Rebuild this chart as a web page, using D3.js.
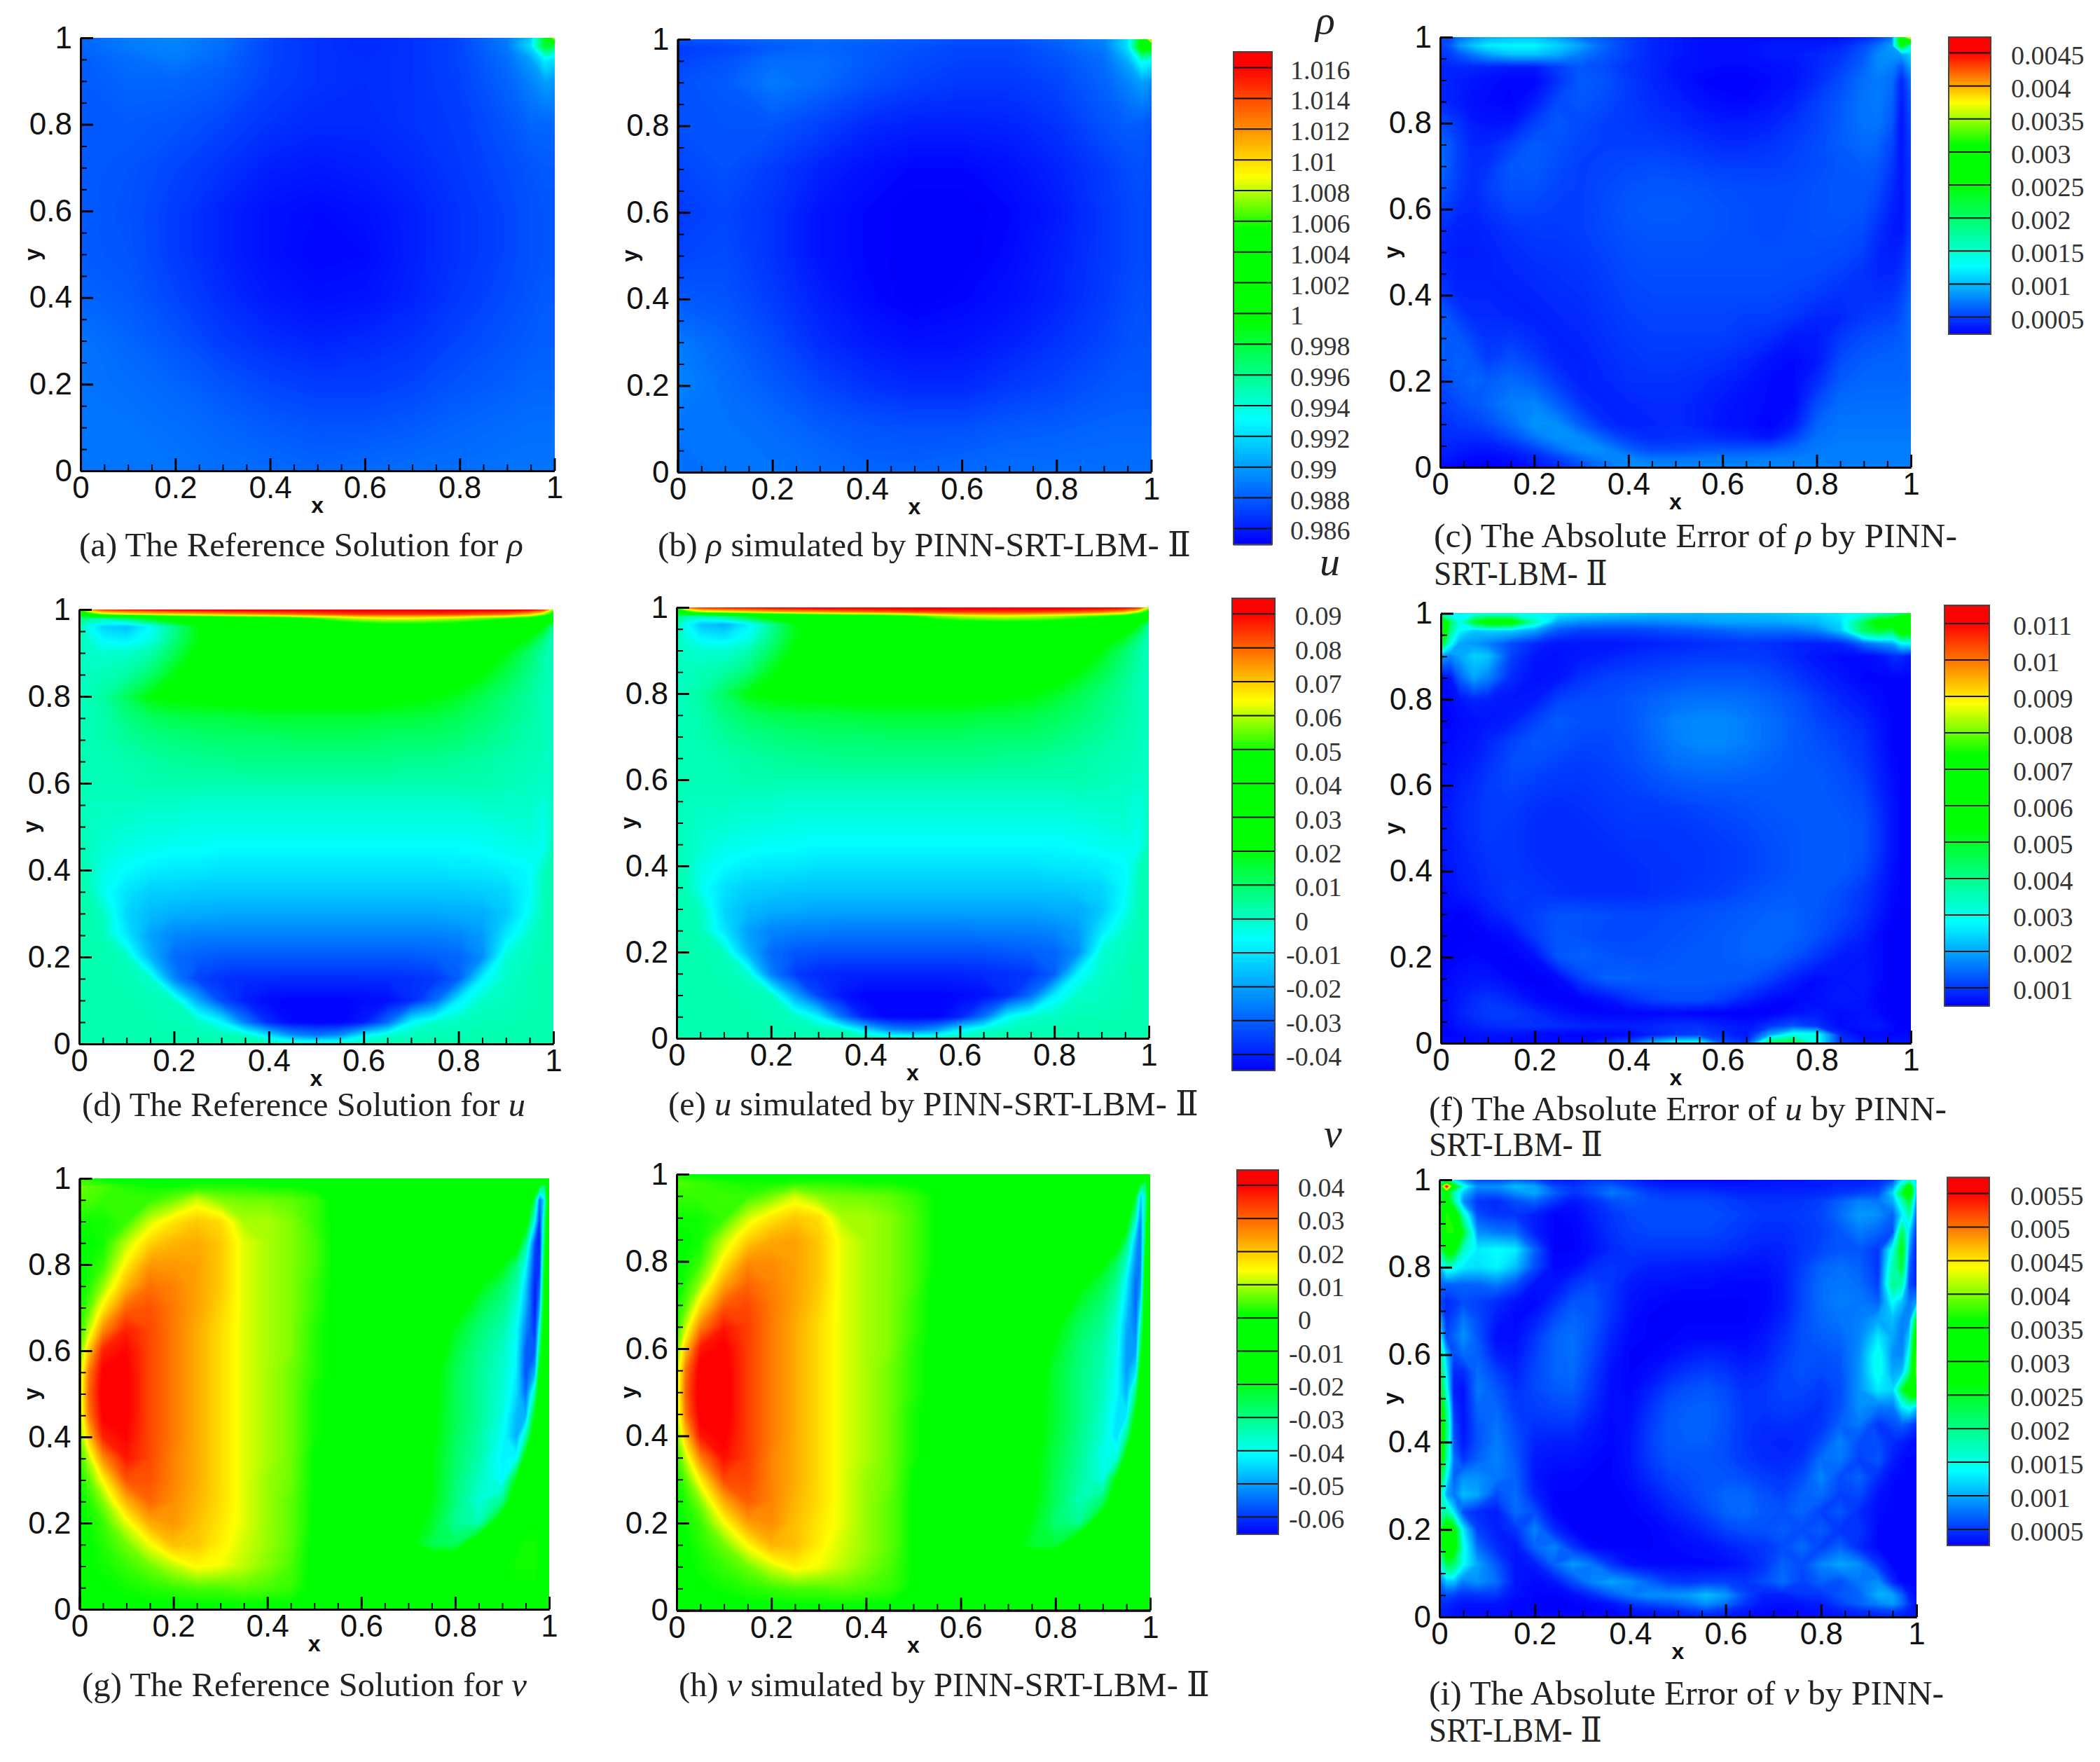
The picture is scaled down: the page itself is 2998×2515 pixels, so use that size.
<!DOCTYPE html>
<html>
<head>
<meta charset="utf-8">
<script src="https://cdn.jsdelivr.net/npm/d3@7"></script>
<style>
body { margin: 0; background: #fff; }
.axis text { font-family: "Liberation Sans", Arial, sans-serif; font-size: 44px; fill: #111; }
.axis path, .axis line { stroke: #000; }
.name { font-family: "Liberation Sans", Arial, sans-serif; font-size: 32px; font-weight: bold; fill: #111; }
.caption { font-family: "Liberation Serif", "DejaVu Serif", serif; font-size: 48px; fill: #222; }
.barlabel { font-family: "Liberation Serif", serif; font-size: 38px; fill: #333; }
.symbol { font-family: "Liberation Serif", serif; font-size: 58px; font-style: italic; fill: #222; }
</style>
</head>
<body>
<script>
// sample positions of the hand read grids, finer near the walls
var rhoX = [0,.1,.2,.3,.4,.5,.6,.7,.8,.9,.95,.98,1]
var rhoY = [1,.98,.95,.9,.8,.7,.6,.5,.4,.3,.2,.1,0]
var uX = [0,.02,.05,.1,.15,.2,.25,.3,.35,.4,.45,.5,.55,.6,.65,.7,.75,.8,.85,.9,.95,.98,1]
var uY = [1,.99,.98,.96,.93,.9,.85,.8,.75,.7,.65,.6,.55,.5,.45,.4,.35,.3,.25,.2,.15,.1,.05,.02,0]
var vX = [0,.02,.05,.1,.15,.2,.25,.3,.35,.4,.45,.5,.55,.6,.65,.7,.75,.8,.85,.9,.93,.95,.97,.98,.99,1]
var vY = [1,.98,.95,.9,.85,.8,.75,.7,.65,.6,.55,.5,.45,.4,.35,.3,.25,.2,.15,.1,.05,0]
var errX = [0,.02,.04,.07,.1,.15,.2,.25,.3,.35,.4,.45,.5,.55,.6,.65,.7,.75,.8,.85,.9,.93,.96,.98,1]
var errY = [1,.98,.96,.93,.9,.85,.8,.75,.7,.65,.6,.55,.5,.45,.4,.35,.3,.25,.2,.15,.1,.07,.04,.02,0]
var vErrX = [0,.015,.03,.05,.08,.12,.16,.2,.24,.28,.32,.36,.4,.44,.48,.52,.56,.6,.64,.68,.72,.76,.8,.84,.88,.92,.95,.97,.985,1]
var vErrY = [1,.985,.97,.95,.92,.88,.84,.8,.76,.72,.68,.64,.6,.56,.52,.48,.44,.4,.36,.32,.28,.24,.2,.16,.12,.08,.05,.03,.015,0]

// rho, in units of 1e-4
var rhoRef = [
[9883,9890,9893,9886,9873,9867,9864,9867,9873,9890,9915,9990,10092],
[9883,9890,9893,9886,9873,9867,9864,9867,9873,9890,9922,9985,9970],
[9880,9886,9890,9883,9873,9867,9865,9867,9873,9886,9902,9928,9922],
[9880,9883,9883,9880,9872,9867,9865,9867,9872,9883,9893,9902,9899],
[9880,9880,9878,9873,9867,9864,9864,9867,9870,9878,9883,9883,9883],
[9880,9878,9873,9867,9861,9859,9861,9864,9869,9875,9878,9880,9880],
[9880,9877,9870,9862,9856,9854,9856,9861,9867,9873,9877,9878,9878],
[9880,9878,9870,9862,9856,9853,9854,9861,9867,9873,9877,9878,9878],
[9883,9880,9873,9865,9859,9856,9857,9862,9869,9875,9878,9880,9880],
[9888,9883,9878,9870,9865,9862,9864,9867,9873,9878,9880,9881,9881],
[9888,9886,9883,9878,9873,9870,9870,9873,9878,9881,9883,9883,9883],
[9888,9888,9886,9883,9880,9878,9878,9880,9883,9885,9886,9886,9886],
[9888,9888,9888,9886,9885,9883,9885,9886,9886,9888,9888,9888,9888]]
var rhoSim = [
[9880,9880,9883,9886,9883,9880,9877,9877,9883,9893,9922,10000,10110],
[9870,9873,9880,9883,9880,9877,9873,9873,9880,9890,9922,10005,10000],
[9873,9877,9886,9886,9880,9875,9872,9872,9877,9886,9906,9938,9931],
[9877,9880,9890,9885,9877,9872,9869,9869,9873,9883,9893,9902,9896],
[9877,9878,9878,9872,9864,9861,9861,9862,9867,9877,9881,9880,9877],
[9873,9877,9870,9862,9856,9853,9853,9856,9862,9870,9875,9877,9875],
[9870,9873,9867,9857,9853,9851,9851,9853,9859,9869,9873,9875,9873],
[9873,9875,9867,9857,9853,9851,9851,9854,9861,9869,9873,9875,9873],
[9880,9878,9870,9861,9854,9851,9853,9856,9862,9870,9875,9877,9875],
[9890,9883,9875,9865,9859,9856,9857,9861,9867,9873,9877,9878,9877],
[9893,9886,9880,9873,9867,9864,9864,9869,9873,9878,9880,9880,9880],
[9888,9888,9885,9881,9878,9877,9877,9880,9881,9883,9883,9883,9883],
[9886,9888,9888,9886,9883,9883,9885,9886,9886,9886,9886,9886,9886]]

// u, in units of 1e-3
var uRef = [
[50,75,85,88,90,92,93,94,94,94,94,94,94,94,94,94,94,94,94,94,92,85,60],
[30,45,60,65,68,70,72,74,76,78,80,82,84,85,85,85,85,84,82,80,72,60,45],
[8,5,4,10,20,30,34,38,40,42,46,52,58,62,64,64,62,60,56,52,46,38,25],
[3,-4,-12,-15,-6,6,20,27,30,32,34,36,38,40,42,42,42,40,38,36,30,20,6],
[2,-1,-6,-8,-3,8,20,28,30,31,32,33,33,33,33,33,33,33,31,28,18,8,2],
[1,0,-1,0,3,12,23,27,30,31,32,32,32,32,32,32,32,30,27,20,10,4,1],
[1,1,2,4,10,20,25,27,29,30,31,31,31,31,31,31,29,26,21,14,7,3,1],
[1,2,4,12,21,23,24,25,25,25,25,25,25,25,24,23,21,18,13,9,5,2,1],
[1,2,3,8,11,13,14,14,15,16,16,16,16,16,15,15,14,12,10,7,4,2,1],
[2,2,3,5,7,8,9,10,10,10,11,11,11,11,10,10,10,9,7,5,3,2,1],
[2,2,2,3,4,5,6,6,7,7,7,7,7,7,7,6,6,5,4,3,2,1,1],
[2,2,2,2,3,3,3,3,3,3,3,3,3,3,3,3,3,3,3,2,1,0,1],
[2,1,1,1,0,0,-1,-1,-1,-1,-1,-1,-1,-1,-1,-1,-1,-1,0,0,0,-2,1],
[2,1,0,-1,-2,-2,-3,-3,-3,-3,-3,-3,-3,-3,-3,-3,-3,-3,-3,-2,-1,-3,1],
[2,1,-1,-3,-4,-5,-5,-6,-6,-6,-6,-6,-6,-6,-6,-6,-6,-6,-5,-4,-3,-4,2],
[3,1,-3,-6,-8,-9,-9,-10,-10,-10,-10,-10,-10,-10,-10,-10,-10,-9,-9,-8,-6,1,3],
[3,2,-4,-10,-13,-13,-14,-14,-14,-14,-14,-14,-14,-14,-14,-14,-14,-14,-13,-12,-6,2,3],
[3,3,1,-12,-16,-18,-18,-19,-19,-19,-19,-19,-19,-19,-19,-19,-19,-18,-18,-14,-4,2,3],
[3,3,2,-9,-20,-24,-25,-25,-25,-25,-25,-25,-25,-25,-25,-25,-25,-24,-21,-9,0,2,3],
[3,3,3,1,-17,-28,-30,-31,-31,-31,-31,-31,-31,-31,-31,-31,-30,-29,-23,-1,1,3,3],
[3,3,3,2,0,-24,-34,-37,-38,-38,-38,-38,-38,-38,-38,-37,-36,-30,-7,0,2,3,3],
[3,3,3,3,2,1,-18,-33,-40,-43,-44,-44,-44,-43,-42,-38,-28,-8,0,1,2,3,3],
[3,3,3,3,3,2,1,-6,-25,-38,-43,-44,-44,-40,-28,-6,0,1,2,2,3,3,3],
[3,3,3,3,3,3,2,2,1,-10,-22,-26,-22,-8,-1,1,2,2,3,3,3,3,3],
[3,3,3,3,3,3,3,3,3,3,2,1,1,2,3,3,3,3,3,3,3,3,3]]
var uSim = [
[55,78,86,89,90,92,93,94,94,94,94,94,94,94,94,94,94,94,94,94,92,86,62],
[32,46,60,64,68,71,73,75,77,79,81,83,84,85,85,85,85,84,82,79,72,60,46],
[9,4,3,8,18,29,34,38,40,42,45,51,57,61,63,64,62,60,56,52,46,38,26],
[3,-5,-14,-17,-8,5,19,27,30,32,34,36,38,40,41,42,42,40,38,36,30,20,6],
[2,-2,-7,-9,-4,7,19,27,30,31,32,33,33,33,33,33,33,33,31,28,18,8,2],
[1,0,-1,-1,2,11,22,27,30,31,32,32,32,32,32,32,32,30,27,20,10,4,1],
[1,1,2,4,9,19,25,27,29,30,31,31,31,31,31,31,29,26,21,14,7,3,1],
[1,2,4,11,20,23,24,25,25,25,25,25,25,25,24,23,21,18,13,9,5,2,1],
[1,2,3,8,11,13,14,14,15,16,16,16,16,16,15,15,14,12,10,7,4,2,1],
[2,2,3,5,7,8,9,10,10,10,11,11,11,11,10,10,10,9,7,5,3,2,1],
[2,2,2,3,4,5,6,6,7,7,7,7,7,7,7,6,6,5,4,3,2,1,1],
[2,2,2,2,3,3,3,3,3,3,3,3,3,3,3,3,3,3,3,2,1,0,1],
[2,1,1,1,0,0,-1,-1,-1,-1,-1,-1,-1,-1,-1,-1,-1,-1,0,0,0,-2,1],
[2,1,0,-1,-2,-2,-3,-3,-3,-3,-3,-3,-3,-3,-3,-3,-3,-3,-3,-2,-1,-3,1],
[2,1,-1,-3,-4,-5,-5,-6,-6,-6,-6,-6,-6,-6,-6,-6,-6,-6,-5,-4,-3,-4,2],
[3,1,-3,-6,-8,-9,-9,-10,-10,-10,-10,-10,-10,-10,-10,-10,-10,-9,-9,-8,-6,1,3],
[3,2,-4,-10,-13,-13,-14,-14,-14,-14,-14,-14,-14,-14,-14,-14,-14,-14,-13,-12,-6,2,3],
[3,3,1,-12,-16,-18,-18,-19,-19,-19,-19,-19,-19,-19,-19,-19,-19,-18,-18,-14,-4,2,3],
[3,3,2,-9,-20,-24,-25,-25,-26,-26,-26,-26,-26,-26,-25,-25,-25,-24,-21,-9,0,2,3],
[3,3,3,1,-17,-28,-31,-32,-32,-32,-32,-32,-32,-32,-32,-31,-30,-29,-23,-1,1,3,3],
[3,3,3,2,0,-25,-35,-38,-39,-39,-39,-39,-39,-39,-38,-37,-36,-30,-7,0,2,3,3],
[3,3,3,3,2,1,-19,-34,-41,-44,-44,-44,-44,-43,-42,-38,-28,-8,0,1,2,3,3],
[3,3,3,3,3,2,1,-7,-27,-40,-44,-44,-44,-39,-27,-6,0,1,2,2,3,3,3],
[3,3,3,3,3,3,2,2,1,-11,-23,-26,-21,-8,-1,1,2,2,3,3,3,3,3],
[3,3,3,3,3,3,3,3,3,3,2,1,1,2,3,3,3,3,3,3,3,3,3]]

// v, in units of 1e-3
var vRef = [
[3,2,1,0,0,0,0,0,0,0,0,0,0,0,0,0,0,0,0,0,0,0,-1,-4,-6,-3],
[7,6,5,3,2,2,3,3,3,2,2,1,0,0,0,0,0,0,0,0,0,0,-5,-25,-30,-3],
[5,5,4,4,4,7,12,8,7,7,6,4,0,0,0,0,0,0,0,0,-1,-3,-28,-55,-42,-3],
[2,2,2,4,12,17,20,18,10,10,8,4,0,0,0,0,0,0,0,-1,-4,-12,-42,-60,-32,-1],
[1,1,2,11,19,22,23,20,13,10,8,5,0,0,0,0,0,0,-2,-6,-12,-30,-58,-62,-26,-1],
[1,2,4,16,25,25,24,20,13,10,8,5,0,0,0,0,0,-1,-8,-18,-28,-40,-60,-60,-20,-1],
[1,3,9,22,29,27,24,20,13,10,8,4,0,0,0,0,-1,-6,-18,-26,-33,-45,-62,-55,-14,-1],
[2,6,16,30,32,28,24,19,13,10,8,4,0,0,0,-1,-4,-12,-24,-30,-37,-48,-62,-48,-10,-1],
[3,11,26,37,33,28,23,18,13,10,8,3,0,0,0,-1,-8,-20,-28,-33,-40,-52,-60,-38,-7,0],
[6,20,37,40,33,28,23,18,13,10,8,3,0,0,0,-2,-12,-23,-30,-35,-41,-56,-56,-28,-4,0],
[9,28,41,41,33,28,23,18,13,10,7,3,0,0,0,-3,-15,-25,-31,-36,-42,-57,-48,-15,-3,0],
[10,30,42,41,33,28,23,18,13,10,7,2,0,0,-1,-4,-16,-25,-31,-37,-44,-54,-32,-8,-2,0],
[9,28,41,41,33,28,23,18,13,10,7,2,0,0,-1,-5,-17,-25,-31,-38,-47,-48,-18,-4,-1,0],
[7,20,37,40,33,28,23,18,13,10,7,2,0,0,-1,-6,-17,-26,-32,-40,-48,-34,-7,-2,0,0],
[4,11,26,38,33,27,23,18,13,10,7,1,0,0,-1,-8,-18,-27,-33,-42,-40,-14,-3,-1,0,0],
[2,6,15,32,32,27,23,18,13,9,7,1,0,0,-1,-10,-18,-28,-35,-41,-18,-5,-1,0,0,0],
[1,3,8,22,30,26,22,18,13,9,6,1,0,0,-2,-12,-19,-29,-37,-30,-6,-2,0,0,0,0],
[0,2,4,13,23,25,21,17,13,9,6,1,0,0,-3,-14,-21,-31,-34,-8,-2,0,1,1,0,0],
[0,1,3,7,14,21,20,16,12,9,6,0,0,0,-3,-16,-25,-26,-6,-1,1,2,2,1,0,0],
[0,1,2,4,7,11,15,14,11,8,5,0,0,0,0,-3,-4,-2,0,1,2,2,2,1,0,0],
[0,0,1,2,3,4,5,5,6,5,4,0,0,0,0,0,0,0,1,1,1,1,1,0,0,0],
[0,0,0,0,0,0,0,0,0,0,0,0,0,0,0,0,0,0,0,0,0,0,0,0,0,0]]
var vSim = [
[2,1,1,0,0,0,0,0,0,0,0,0,0,0,0,0,0,0,0,0,0,0,-1,-3,-5,-2],
[5,5,4,3,2,2,3,3,3,2,2,1,0,0,0,0,0,0,0,0,0,0,-4,-20,-26,-3],
[4,4,4,4,4,7,12,8,7,7,6,4,1,0,0,0,0,0,0,0,-1,-3,-22,-46,-34,-3],
[2,2,2,4,12,17,20,18,10,10,8,5,1,0,0,0,0,0,0,-1,-4,-12,-36,-52,-28,-1],
[1,1,2,11,19,23,24,20,13,10,8,5,1,0,0,0,0,0,-2,-5,-11,-26,-48,-54,-24,-1],
[1,2,4,16,26,26,24,20,13,10,8,5,1,0,0,0,0,-1,-7,-16,-26,-36,-52,-53,-18,-1],
[1,3,9,23,30,27,24,20,13,10,8,5,0,0,0,0,-1,-5,-16,-24,-31,-42,-55,-50,-13,-1],
[2,6,17,31,33,28,24,19,13,10,8,4,0,0,0,-1,-3,-10,-22,-28,-35,-45,-55,-43,-9,-1],
[3,12,27,38,34,28,23,18,13,10,8,4,0,0,0,-1,-6,-17,-26,-31,-38,-48,-53,-34,-7,0],
[6,21,38,41,34,28,23,18,13,10,8,3,0,0,0,-2,-10,-20,-28,-33,-39,-50,-50,-25,-4,0],
[9,29,42,42,34,28,23,18,13,10,7,3,0,0,0,-3,-13,-22,-29,-34,-40,-50,-43,-14,-3,0],
[10,31,43,42,34,28,23,18,13,10,7,3,0,0,-1,-3,-14,-22,-29,-35,-41,-48,-29,-7,-2,0],
[9,29,42,42,34,28,23,18,13,10,7,2,0,0,-1,-4,-15,-22,-29,-36,-43,-43,-16,-4,-1,0],
[7,21,38,41,34,28,23,18,13,10,7,2,0,0,-1,-5,-15,-23,-30,-37,-44,-31,-6,-2,0,0],
[4,12,27,39,34,27,23,18,13,10,7,2,0,0,-1,-7,-16,-24,-31,-39,-37,-13,-3,-1,0,0],
[2,6,16,33,33,27,23,18,13,9,7,1,0,0,-1,-8,-16,-25,-32,-38,-16,-5,-1,0,0,0],
[1,3,8,23,31,27,22,18,13,9,6,1,0,0,-2,-10,-17,-26,-34,-27,-6,-2,0,0,0,0],
[0,2,4,14,24,26,21,17,13,9,6,1,0,0,-2,-12,-19,-28,-31,-7,-2,0,0,0,0,0],
[0,1,3,7,15,22,21,16,12,9,6,1,0,0,-3,-14,-22,-23,-5,-1,0,0,0,0,0,0],
[0,1,2,4,7,12,16,14,11,8,5,1,0,0,0,-3,-4,-2,0,0,0,0,0,0,0,0],
[0,0,1,2,3,4,5,5,6,5,4,1,0,0,0,0,0,0,0,0,0,0,0,0,0,0],
[0,0,0,0,0,0,0,0,0,0,0,0,0,0,0,0,0,0,0,0,0,0,0,0,0,0]]

// absolute errors, in units of 1e-5
var rhoErr = [
[55,55,70,85,95,100,100,90,70,60,50,40,35,30,30,30,30,30,30,30,40,50,70,300,400],
[50,60,85,105,120,125,125,110,90,65,50,40,35,30,30,30,35,35,35,40,55,70,90,250,150],
[45,50,60,75,90,105,105,95,75,60,50,40,35,30,30,30,35,35,40,45,60,80,85,90,110],
[40,40,40,40,38,35,35,50,60,55,45,40,32,30,28,28,30,32,40,50,65,80,75,60,90],
[40,38,36,33,30,27,27,45,62,58,48,40,33,27,25,25,28,32,42,55,70,75,70,40,70],
[40,38,35,30,28,26,35,55,60,55,48,42,38,32,28,27,32,38,50,60,72,75,65,35,60],
[55,52,45,35,32,33,50,60,55,50,48,45,42,38,35,35,38,45,52,62,72,72,60,33,55],
[65,60,50,40,40,50,62,58,52,50,50,50,48,45,42,42,45,50,55,62,68,65,52,33,50],
[68,60,50,42,45,60,62,55,50,52,54,55,54,52,50,50,50,52,55,60,62,60,48,33,48],
[60,55,48,42,50,58,58,52,50,54,58,60,60,58,56,55,54,55,58,60,60,55,42,33,48],
[50,48,42,40,45,52,52,50,50,55,60,62,62,60,58,56,55,56,58,60,58,50,38,33,48],
[42,40,38,38,40,45,48,48,50,54,58,60,60,60,58,56,55,56,58,58,54,44,35,33,50],
[40,38,36,36,38,42,45,46,48,52,56,58,58,58,56,56,56,56,56,55,50,40,36,40,55],
[42,40,38,38,38,40,42,44,46,50,54,56,56,56,56,56,56,55,54,50,44,40,40,45,60],
[50,45,40,40,40,38,40,42,44,48,52,54,54,54,54,54,54,52,48,44,44,44,45,52,65],
[60,58,50,42,42,40,38,40,42,46,50,52,52,52,52,50,50,46,40,40,48,50,52,58,68],
[62,62,60,52,45,48,42,38,40,44,48,50,50,50,50,46,42,34,34,48,56,58,60,62,68],
[60,62,64,60,50,58,50,40,38,42,46,48,48,46,44,40,32,28,34,55,62,64,64,65,68],
[55,58,62,66,62,68,62,48,38,40,44,44,44,42,38,33,28,28,42,62,66,66,66,66,68],
[50,52,55,60,65,76,78,62,45,38,40,42,42,38,34,30,28,28,55,68,70,70,70,70,70],
[45,45,48,50,55,68,85,82,62,44,38,40,42,38,32,30,26,35,65,72,72,72,72,72,72],
[42,42,42,42,44,55,72,85,80,62,48,42,44,44,40,38,32,50,70,74,74,74,74,74,74],
[38,38,35,33,32,38,50,68,82,82,65,55,55,58,60,60,62,68,74,76,76,76,76,76,76],
[34,33,30,28,27,30,38,50,65,78,80,72,72,74,74,74,76,76,76,76,76,76,76,76,76],
[30,28,26,25,25,27,33,42,55,70,80,80,78,78,78,78,78,78,78,76,76,76,76,76,76]]
var uErr = [
[300,250,270,280,280,290,280,270,260,250,240,230,225,220,220,225,230,240,250,270,300,320,380,450,500],
[750,450,300,500,620,600,350,200,180,170,170,170,180,190,200,200,200,210,220,250,450,600,600,700,780],
[800,400,280,230,240,240,200,130,110,110,110,115,125,130,140,150,150,150,170,230,450,500,450,650,600],
[550,300,200,190,170,120,90,70,70,70,75,80,85,90,95,100,95,85,80,90,150,180,200,280,280],
[200,170,200,240,230,110,70,65,75,80,90,95,100,105,105,105,100,85,70,60,60,65,90,90,70],
[60,70,140,200,170,90,65,70,95,110,115,120,125,130,130,130,120,105,85,70,55,55,55,55,55],
[55,60,70,85,80,70,75,110,120,120,130,140,150,155,155,150,140,125,105,85,70,60,55,55,55],
[55,55,60,65,70,80,110,135,125,120,130,150,170,175,175,165,150,135,115,100,85,70,55,55,55],
[60,60,65,70,85,110,130,125,115,115,125,145,165,175,175,165,150,135,125,110,95,75,55,55,55],
[65,65,70,80,95,120,120,110,105,110,120,135,150,155,155,150,140,135,130,120,100,80,60,55,55],
[70,70,80,90,105,115,105,100,100,105,110,120,130,135,135,135,135,135,135,125,110,85,65,55,55],
[70,75,85,95,105,105,95,90,95,100,105,105,110,115,120,125,130,135,135,130,120,95,70,55,55],
[70,75,85,95,105,100,90,90,90,95,100,100,100,105,110,115,125,130,135,135,125,100,70,55,55],
[70,75,80,90,100,100,90,90,90,90,95,95,100,100,105,110,120,130,135,135,125,100,70,55,55],
[65,70,80,85,95,100,95,90,90,90,90,95,95,100,105,110,120,130,135,135,115,90,65,55,55],
[60,65,70,80,90,105,100,95,90,90,90,95,100,105,110,120,130,135,135,120,100,80,60,55,55],
[55,55,52,60,75,95,110,125,125,120,115,115,120,125,130,135,140,140,130,115,95,75,55,52,52],
[50,50,50,52,55,65,105,130,125,115,115,120,125,130,135,140,140,140,125,100,80,60,50,50,50],
[50,52,55,58,55,52,65,130,140,130,125,125,130,135,135,140,140,125,100,75,70,60,50,50,50],
[55,60,65,70,70,55,50,60,110,140,140,135,135,135,135,130,110,80,60,70,75,60,50,50,50],
[60,65,75,90,100,85,62,52,52,65,90,110,120,120,105,80,60,55,65,75,70,55,50,50,50],
[60,65,80,95,105,105,90,72,58,55,56,56,60,55,52,50,50,65,75,60,68,60,50,50,50],
[55,60,70,80,90,95,95,90,85,80,78,85,95,95,80,70,100,130,100,60,70,75,60,52,50],
[55,55,60,65,70,65,60,55,55,55,60,80,100,110,90,70,200,310,300,90,55,60,55,55,55],
[60,60,60,60,60,60,60,60,60,100,130,220,300,300,130,100,450,500,300,100,80,70,70,70,70]]
var vErr = [
[120,150,130,90,60,60,70,60,40,40,50,50,45,35,30,30,30,30,30,35,35,35,40,40,40,45,60,130,150,130],
[280,570,300,150,90,90,110,100,60,50,60,70,55,45,40,40,40,38,38,38,40,40,40,45,45,50,90,180,320,120],
[200,280,180,110,70,70,90,100,70,50,60,80,70,55,50,50,50,45,42,42,42,42,45,50,55,60,120,250,340,110],
[230,300,200,90,50,45,60,70,50,35,45,60,65,60,58,58,58,55,50,48,48,50,55,70,85,80,100,170,240,90],
[280,380,340,170,60,50,50,40,28,30,40,50,58,60,60,60,60,58,55,50,50,52,58,75,95,90,70,130,180,70],
[260,370,370,250,90,80,75,40,28,28,36,48,55,58,58,58,58,55,50,46,46,50,55,65,80,70,60,230,120,50],
[190,300,290,170,130,140,130,70,28,28,34,44,50,50,50,50,50,48,44,40,42,50,58,65,65,50,150,270,90,40],
[110,160,150,130,125,135,110,60,30,32,45,50,46,40,40,38,38,36,34,34,40,55,70,76,70,50,180,240,70,40],
[70,70,70,70,70,80,60,35,35,50,58,50,38,34,34,32,32,30,30,30,38,58,75,80,75,55,200,180,60,45],
[60,45,50,60,55,45,35,30,45,65,65,50,35,30,28,28,28,28,28,30,38,58,75,82,80,70,140,110,80,100],
[110,50,60,80,60,38,30,40,60,72,65,48,32,28,28,28,28,28,28,32,42,60,72,78,82,100,110,85,90,250],
[150,60,70,90,65,32,32,50,70,76,62,42,30,28,28,30,30,30,30,36,48,62,68,72,85,130,100,80,120,350],
[220,110,60,75,70,40,36,55,70,76,58,38,28,28,32,38,42,40,35,40,52,62,62,66,90,150,90,85,150,390],
[250,130,45,45,75,55,42,58,70,74,54,34,28,32,42,50,55,50,42,46,56,62,58,62,92,150,100,110,200,400],
[290,150,40,35,80,65,48,58,66,68,50,32,30,40,55,62,65,58,48,50,58,58,52,60,92,130,120,240,330,360],
[320,190,50,35,72,72,52,55,58,60,44,32,32,48,62,68,70,62,50,50,54,52,48,62,90,80,80,130,150,120],
[350,210,60,35,65,78,58,48,50,50,38,30,34,52,66,70,70,62,50,46,48,46,50,70,80,50,60,70,60,50],
[360,200,65,38,62,82,62,42,40,40,34,30,36,54,66,68,68,60,50,44,42,44,60,85,60,60,45,40,35,32],
[340,180,80,50,70,85,66,38,34,34,30,28,36,52,62,64,64,60,52,46,44,50,75,80,55,65,40,32,30,30],
[280,140,70,90,90,80,70,36,30,30,28,28,34,46,56,60,64,64,60,54,50,60,85,60,70,45,32,30,30,30],
[200,100,80,110,100,60,75,42,28,28,26,26,30,38,48,56,64,72,72,62,56,70,75,55,60,35,30,30,30,30],
[170,190,130,60,45,40,75,60,30,26,26,26,28,32,40,48,58,70,74,66,62,72,55,65,45,32,30,30,30,30],
[220,340,290,130,55,40,50,85,45,28,26,26,26,28,32,38,46,56,62,62,68,60,68,50,50,30,30,30,30,30],
[220,340,310,150,75,45,36,72,85,50,30,28,28,28,30,32,34,40,46,50,60,75,55,70,45,30,30,30,30,30],
[140,230,220,140,100,65,34,40,70,95,80,50,34,30,30,30,30,32,38,50,70,60,85,100,90,50,30,30,30,30],
[80,110,110,80,90,75,36,30,36,60,85,100,90,70,55,50,55,55,50,60,75,55,70,60,80,90,45,30,30,30],
[55,60,55,48,50,50,34,28,28,32,45,65,80,90,90,95,110,95,60,40,40,50,50,65,70,105,100,70,40,32],
[45,45,40,36,36,36,30,28,28,28,30,36,50,60,65,75,90,75,50,36,34,36,40,55,70,85,95,75,50,36],
[40,40,36,32,32,32,30,28,28,28,28,30,36,40,42,50,60,50,38,32,30,32,36,42,48,55,60,50,40,36],
[40,40,35,35,35,32,30,30,30,30,30,30,32,34,36,38,42,38,34,30,30,32,34,36,40,40,42,40,38,36]]

// colour bar labels
var rhoTicks = ['1.016','1.014','1.012','1.01','1.008','1.006','1.004','1.002','1','0.998','0.996','0.994','0.992','0.99','0.988','0.986']
var uTicks = ['0.09','0.08','0.07','0.06','0.05','0.04','0.03','0.02','0.01','0','-0.01','-0.02','-0.03','-0.04']
var vTicks = ['0.04','0.03','0.02','0.01','0','-0.01','-0.02','-0.03','-0.04','-0.05','-0.06']
var rhoErrTicks = ['0.0045','0.004','0.0035','0.003','0.0025','0.002','0.0015','0.001','0.0005']
var uErrTicks = ['0.011','0.01','0.009','0.008','0.007','0.006','0.005','0.004','0.003','0.002','0.001']
var vErrTicks = ['0.0055','0.005','0.0045','0.004','0.0035','0.003','0.0025','0.002','0.0015','0.001','0.0005']

// value at blue, cyan, green, green, yellow, red
var rhoStops = [.98509,.9931,.9995,1.0055,1.0089,1.016]
var uStops = [-.0447,-.006,.021,.049,.0644,.09]
var vStops = [-.0652,-.041,-.018,.001,.0143,.04]
var rhoErrStops = [.00024,.00127,.0025,.0031,.00375,.0045]
var uErrStops = [.0005,.0028,.0054,.0074,.0088,.011]
var vErrStops = [.00026,.00137,.0027,.0036,.0044,.0055]
var rampColors = ['#0000ff','#00ffff','#00ff00','#00ff00','#ffff00','#ff0000']

var svg = d3.select('body').append('svg').attr('width', 2998).attr('height', 2515)
var axisTicks = [0, .2, .4, .6, .8, 1]
var minorTicks = d3.range(0, 21).map(function(i){ return i / 20 }).filter(function(t){ return Math.round(t * 20) % 4 != 0 })

function drawField(grid, unit, xs, ys, stops, box) {
  var color = d3.scaleLinear().domain(stops).range(rampColors).clamp(true)
  var xScale = d3.scaleLinear().domain([0, 1]).range([box[0], box[1]])
  var yScale = d3.scaleLinear().domain([0, 1]).range([box[3], box[2]])
  // contour coordinates are in grid cells, a sample sits in the middle of its cell
  var colToPx = d3.scaleLinear().domain(xs.map(function(d, i){ return i + .5 })).range(xs.map(xScale)).clamp(true)
  var rowToPx = d3.scaleLinear().domain(ys.map(function(d, i){ return i + .5 })).range(ys.map(yScale)).clamp(true)
  var path = d3.geoPath(d3.geoTransform({ point: function(x, y) { this.stream.point(colToPx(x), rowToPx(y)) } }))

  var values = grid.flat().map(function(d){ return d * unit })
  var ext = d3.extent(values)
  var levels = d3.range(220).map(function(i){ return ext[0] + (ext[1] - ext[0]) * i / 220 })
  var contours = d3.contours().size([xs.length, ys.length]).thresholds(levels)(values)

  var g = svg.append('g')
  g.append('rect').attr('x', box[0]).attr('y', box[2]).attr('width', box[1] - box[0]).attr('height', box[3] - box[2]).attr('fill', color(ext[0]))
  g.selectAll('path').data(contours).enter().append('path')
    .attr('d', path)
    .attr('fill', function(d){ return color(d.value) })

  // tecplot style axes: only left and bottom, ticks point inwards
  var fmt = function(d){ return String(+d.toFixed(1)) }
  var bottom = svg.append('g').attr('class', 'axis').attr('transform', 'translate(0,' + box[3] + ')')
  bottom.call(d3.axisBottom(xScale).tickValues(minorTicks).tickSize(-9).tickSizeOuter(0).tickFormat(''))
    .selectAll('line').attr('stroke-width', 2)
  var bottom2 = svg.append('g').attr('class', 'axis').attr('transform', 'translate(0,' + box[3] + ')')
  bottom2.call(d3.axisBottom(xScale).tickValues(axisTicks).tickSize(-18).tickSizeOuter(0).tickPadding(8).tickFormat(fmt))
  var left = svg.append('g').attr('class', 'axis').attr('transform', 'translate(' + box[0] + ',0)')
  left.call(d3.axisLeft(yScale).tickValues(minorTicks).tickSize(-9).tickSizeOuter(0).tickFormat(''))
    .selectAll('line').attr('stroke-width', 2)
  var left2 = svg.append('g').attr('class', 'axis').attr('transform', 'translate(' + box[0] + ',0)')
  left2.call(d3.axisLeft(yScale).tickValues(axisTicks).tickSize(-18).tickSizeOuter(0).tickPadding(12).tickFormat(fmt))
  svg.selectAll('.axis path, .axis line').filter(function(){ return !this.getAttribute('stroke-width') }).attr('stroke-width', 3)

  svg.append('text').attr('class', 'name').attr('text-anchor', 'middle')
    .attr('x', xScale(.5)).attr('y', box[3] + 60).text('x')
  svg.append('text').attr('class', 'name').attr('text-anchor', 'middle')
    .attr('transform', 'translate(' + (box[0] - 58) + ',' + yScale(.5) + ') rotate(-90)').text('y')
}

function drawBar(ticks, stops, domain, box, labelX) {
  var color = d3.scaleLinear().domain(stops).range(rampColors).clamp(true)
  var y = d3.scaleLinear().domain(domain).range([box[3], box[2]])
  var slices = d3.range(box[2], box[3], 2)
  svg.selectAll(null).data(slices).enter().append('rect')
    .attr('x', box[0]).attr('width', box[1] - box[0])
    .attr('y', function(d){ return d }).attr('height', 2.5)
    .attr('fill', function(d){ return color(y.invert(d + 1)) })
  svg.selectAll(null).data(ticks).enter().append('line')
    .attr('x1', box[0]).attr('x2', box[1])
    .attr('y1', function(d){ return y(+d) }).attr('y2', function(d){ return y(+d) })
    .attr('stroke', '#111').attr('stroke-width', 2)
  svg.append('rect').attr('x', box[0]).attr('y', box[2]).attr('width', box[1] - box[0]).attr('height', box[3] - box[2])
    .attr('fill', 'none').attr('stroke', '#444').attr('stroke-width', 2)
  svg.selectAll(null).data(ticks).enter().append('text')
    .attr('class', 'barlabel')
    .attr('x', function(d){ return d[0] == '-' ? labelX - 13 : labelX })
    .attr('y', function(d){ return y(+d) + 16 })
    .text(function(d){ return d })
}

function caption(parts, x, y, width) {
  var t = svg.append('text').attr('class', 'caption').attr('x', x).attr('y', y)
    .attr('textLength', width).attr('lengthAdjust', 'spacingAndGlyphs')
  parts.forEach(function(p, i) {
    var s = t.append('tspan').text(p)
    if (i % 2 == 1) s.style('font-style', 'italic')
  })
}

drawField(rhoRef, 1e-4, rhoX, rhoY, rhoStops, [115, 791.5, 54, 672])
drawField(rhoSim, 1e-4, rhoX, rhoY, rhoStops, [967.5, 1643.5, 56, 674])
drawField(rhoErr, 1e-5, errX, errY, rhoErrStops, [2056, 2728, 53, 667])
drawField(uRef, 1e-3, uX, uY, uStops, [113, 790, 870, 1490])
drawField(uSim, 1e-3, uX, uY, uStops, [966, 1640, 867, 1482])
drawField(uErr, 1e-5, errX, errY, uErrStops, [2057, 2728, 875.5, 1489])
drawField(vRef, 1e-3, vX, vY, vStops, [113.5, 784, 1682, 2297])
drawField(vSim, 1e-3, vX, vY, vStops, [966, 1642, 1676, 2298.5])
drawField(vErr, 1e-5, vErrX, vErrY, vErrStops, [2055, 2736, 1684, 2308])

drawBar(rhoTicks, rhoStops, [.98497, 1.01703], [1761, 1816, 74, 777], 1842)
drawBar(uTicks, uStops, [-.0447, .0946], [1759, 1820, 854, 1528], 1849)
drawBar(vTicks, vStops, [-.0652, .0446], [1766, 1825, 1670, 2190], 1853)
drawBar(rhoErrTicks, rhoErrStops, [.00024, .00474], [2782, 2842, 53, 477], 2871)
drawBar(uErrTicks, uErrStops, [.0005, .0115], [2776, 2840, 864, 1436], 2874)
drawBar(vErrTicks, vErrStops, [.00026, .00574], [2780, 2840, 1680.5, 2206], 2870)

svg.append('text').attr('class', 'symbol').attr('x', 1878).attr('y', 48).text('ρ')
svg.append('text').attr('class', 'symbol').attr('x', 1884).attr('y', 821).text('u')
svg.append('text').attr('class', 'symbol').attr('x', 1890).attr('y', 1637).text('v')

caption(['(a) The Reference Solution for ', 'ρ'], 113, 794, 634)
caption(['(b) ', 'ρ', ' simulated by PINN-SRT-LBM- Ⅱ'], 939, 794, 761)
caption(['(c) The Absolute Error of ', 'ρ', ' by PINN-'], 2047, 781, 747)
caption(['SRT-LBM- Ⅱ'], 2047, 835, 248)
caption(['(d) The Reference Solution for ', 'u'], 117, 1593, 633)
caption(['(e) ', 'u', ' simulated by PINN-SRT-LBM- Ⅱ'], 954, 1592, 757)
caption(['(f) The Absolute Error of ', 'u', ' by PINN-'], 2040, 1599, 739)
caption(['SRT-LBM- Ⅱ'], 2040, 1650, 248)
caption(['(g) The Reference Solution for ', 'v'], 117, 2421, 635)
caption(['(h) ', 'v', ' simulated by PINN-SRT-LBM- Ⅱ'], 969, 2421, 758)
caption(['(i) The Absolute Error of ', 'v', ' by PINN-'], 2040, 2433, 735)
caption(['SRT-LBM- Ⅱ'], 2040, 2486, 247)
</script>
</body>
</html>
